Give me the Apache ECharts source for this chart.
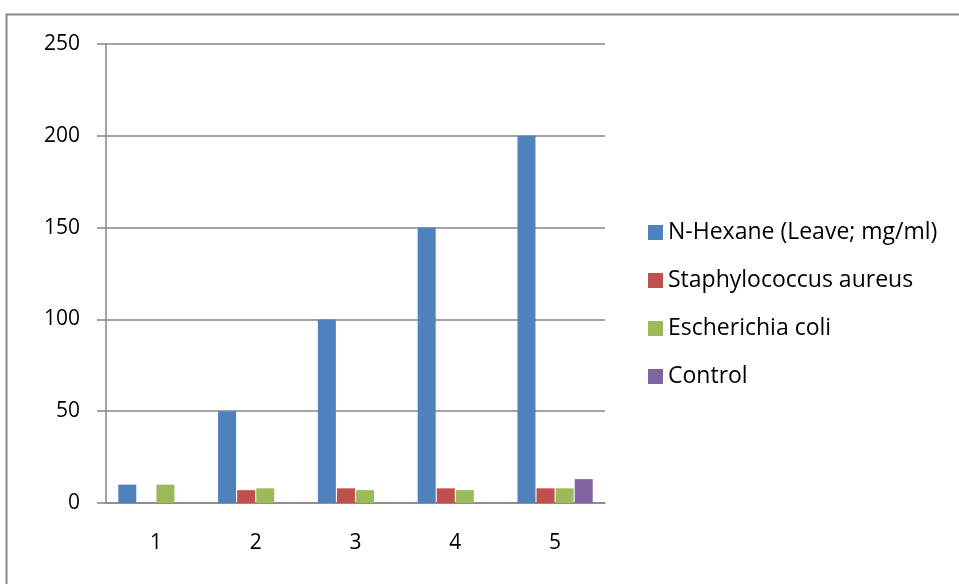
<!DOCTYPE html>
<html>
<head>
<meta charset="utf-8">
<script src="https://cdn.jsdelivr.net/npm/echarts@6/dist/echarts.min.js"></script>
<style>
  html, body { margin: 0; padding: 0; background: #fff; }
  #chart { width: 959px; height: 584px; }
</style>
</head>
<body>
<div id="chart"></div>
<script>
// data
const categories = ['1', '2', '3', '4', '5']
const seriesNames = ['N-Hexane (Leave; mg/ml)', 'Staphylococcus aureus', 'Escherichia coli', 'Control']
const hexane = [10, 50, 100, 150, 200]
const staph = [null, 7, 8, 8, 8]
const ecoli = [10, 8, 7, 7, 8]
const control = [null, null, null, null, 13]
const colors = ['#4f81bd', '#c0504d', '#9bbb59', '#8064a2']

const font = '"Open Sans", sans-serif'
const chart = echarts.init(document.getElementById('chart'))

const values = [hexane, staph, ecoli, control]

chart.setOption({
  animation: false,
  textStyle: { fontFamily: font },
  graphic: [{
    type: 'rect',
    shape: { x: 6.5, y: 14.5, width: 1000, height: 640 },
    style: { fill: 'none', stroke: '#868686', lineWidth: 2 },
    silent: true
  }],
  grid: { left: 106, top: 44, width: 499, height: 459 },
  legend: {
    orient: 'vertical',
    left: 643,
    top: 216,
    itemWidth: 15,
    itemHeight: 15,
    itemGap: 25,
    icon: 'rect',
    textStyle: { fontSize: 23, color: '#000', fontFamily: font },
    data: seriesNames
  },
  xAxis: {
    type: 'category',
    data: categories,
    axisLine: { lineStyle: { color: '#868686', width: 1.5 } },
    axisTick: { length: 9, lineStyle: { color: '#868686', width: 1.5 } },
    axisLabel: { fontSize: 21, color: '#000', margin: 30 }
  },
  yAxis: {
    type: 'value',
    min: 0,
    max: 250,
    interval: 50,
    axisLine: { show: true, lineStyle: { color: '#868686', width: 1.5 } },
    axisTick: { show: true, length: 9, lineStyle: { color: '#868686', width: 1.5 } },
    splitLine: { lineStyle: { color: '#868686', width: 1.5 } },
    axisLabel: { fontSize: 21, color: '#000', margin: 26 }
  },
  series: seriesNames.map((name, i) => ({
    name,
    type: 'bar',
    data: values[i],
    barWidth: 18,
    barGap: '6%',
    itemStyle: { color: colors[i] }
  }))
})
</script>
</body>
</html>
